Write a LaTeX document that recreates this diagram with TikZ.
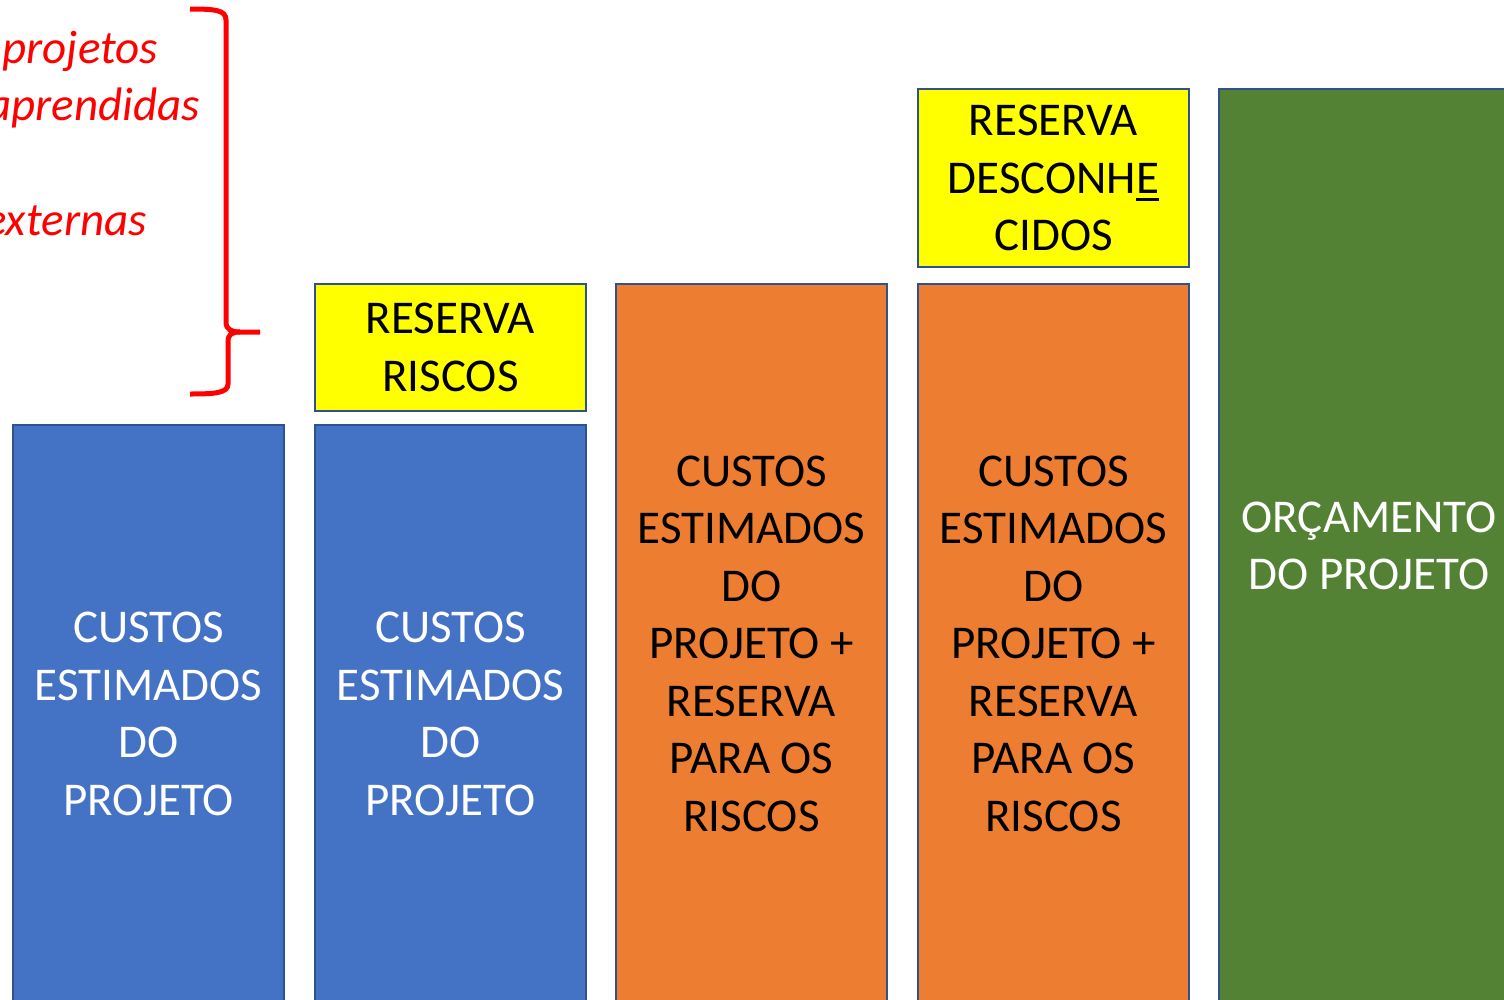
\documentclass[tikz,border=0pt]{standalone}
\usepackage{fontspec}
\setmainfont{Carlito}
\definecolor{cblue}{HTML}{4472C4}
\definecolor{corange}{HTML}{ED7D31}
\definecolor{cgreen}{HTML}{548235}
\definecolor{cyel}{HTML}{FFFF00}
\definecolor{cedge}{HTML}{2F528F}
\definecolor{cred}{HTML}{FF0000}
\newcommand\myul[1]{\setbox0\hbox{#1}\rlap{\rule[-8pt]{\wd0}{3pt}}\box0}
\begin{document}
\begin{tikzpicture}[x=1pt,y=-1pt,
  bar/.style={draw=cedge, line width=2pt, inner sep=0pt, anchor=north west, align=center,
    minimum width=271pt, font=\fontsize{47}{57.5}\selectfont},
  bluebar/.style={bar, fill=cblue, text=white},
  orangebar/.style={bar, fill=corange, text=black},
  yelbar/.style={bar, fill=cyel, text=black},
  greenbar/.style={bar, fill=cgreen, text=white},
  note/.style={text=cred, inner sep=0pt, font=\fontsize{47}{57.5}\selectfont\itshape}]
\useasboundingbox (0,0) rectangle (1504,999);
\clip (0,0) rectangle (1504,999);
\fill[white] (0,0) rectangle (1504,999);
% notes
\node[note, anchor=base east] (n1) at (158,63) {projetos};
\node[note, anchor=base east] (n2) at (200,120.5) {aprendidas};
\node[note, anchor=base east] (n3) at (147,235.5) {externas};
% brace
\draw[cred, line width=5pt] (190,9) .. controls (215,9) and (226,10) .. (226,20) -- (226,322)
  .. controls (226,330) and (232,332) .. (240,332) -- (260,332);
\draw[cred, line width=5pt] (240,332) .. controls (232,332) and (228,334) .. (228,342) -- (228,384)
  .. controls (228,393) and (215,394) .. (190,394);
% column 1
\node[bluebar, minimum height=578pt] (b1) at (12,424) {CUSTOS\\ESTIMADOS\\DO\\PROJETO};
% column 2
\node[yelbar, minimum height=127pt] (y2) at (314,283) {RESERVA\\RISCOS};
\node[bluebar, minimum height=578pt] (b2) at (314,424) {CUSTOS\\ESTIMADOS\\DO\\PROJETO};
% column 3
\node[orangebar, minimum height=719pt] (o3) at (615,283) {CUSTOS\\ESTIMADOS\\DO\\PROJETO +\\RESERVA\\PARA OS\\RISCOS};
% column 4
\node[yelbar, minimum height=178pt] (y4) at (917,88) {RESERVA\\DESCONH\myul{E}\\CIDOS};
\node[orangebar, minimum height=719pt] (o4) at (917,283) {CUSTOS\\ESTIMADOS\\DO\\PROJETO +\\RESERVA\\PARA OS\\RISCOS};
% column 5
\node[greenbar, minimum width=300pt, minimum height=914pt] (g5) at (1218,88) {ORÇAMENTO\\DO PROJETO};
\end{tikzpicture}
\end{document}
